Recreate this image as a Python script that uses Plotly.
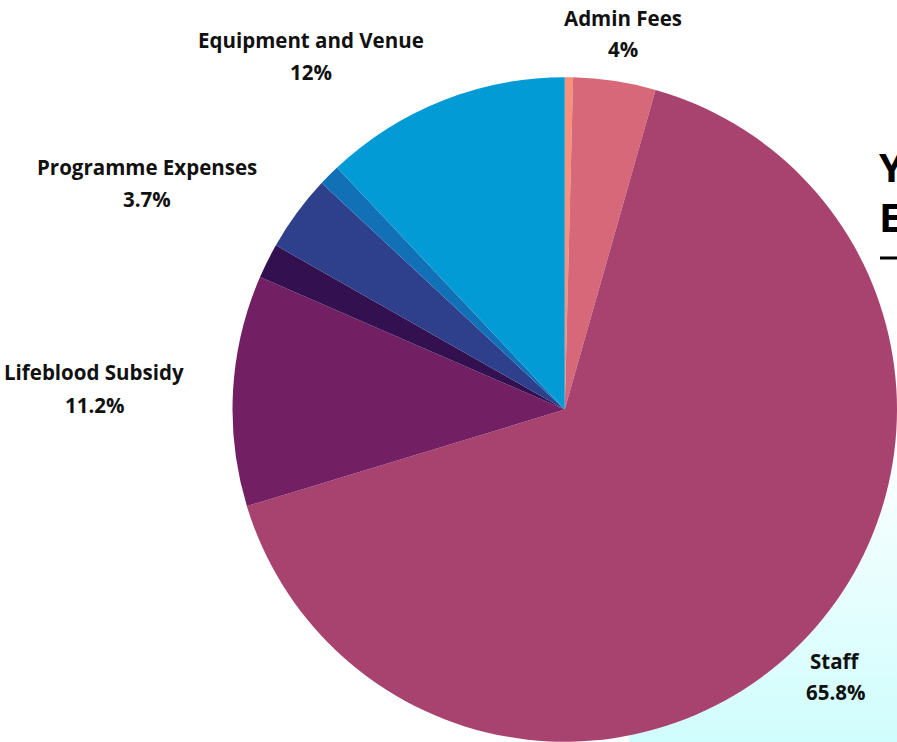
import plotly.graph_objects as go

# ---- data (clockwise from 12 o'clock) ----
slice_names = ["Unlabelled A", "Admin Fees", "Staff", "Lifeblood Subsidy",
               "Unlabelled B", "Programme Expenses", "Unlabelled C", "Equipment and Venue"]
slice_values = [0.4, 4.0, 65.8, 11.2, 1.7, 3.7, 1.05, 12.0]
slice_colors = ["#F6907A", "#D6687A", "#A8426F", "#722063",
                "#331050", "#2E3F8B", "#1271B6", "#029BD5"]

# labelled categories and their displayed percentages
label_names = ["Admin Fees", "Equipment and Venue", "Programme Expenses",
               "Lifeblood Subsidy", "Staff"]
label_pcts = [4, 12, 3.7, 11.2, 65.8]
# label anchor positions in window pixels: (x centre, name y, pct y) - layout only
label_pos = [(623, 18, 49), (311, 40, 72), (147, 167, 199), (94, 372, 405), (835, 661, 692)]

W, H = 897, 742


def fx(x):
    return x


def fy(y):
    return H - y


fig = go.Figure()

# light cyan gradient panel at lower right (background)
px0, px1, py_top = 629, 897, 430
fig.add_trace(go.Scatter(
    x=[fx(px0), fx(px1), fx(px1), fx(px0), fx(px0)],
    y=[fy(py_top), fy(py_top), 0, 0, fy(py_top)],
    mode="lines", line=dict(width=0), fill="toself",
    fillgradient=dict(type="vertical",
                      colorscale=[[0, "#D0FDFD"], [1, "#FFFFFF"]],
                      start=0, stop=fy(py_top)),
    hoverinfo="skip", showlegend=False,
))

# pie: centre (565, 409), radius ~333 in window pixels
cx, cy, r = 565, 409, 332.5
fig.add_trace(go.Pie(
    labels=slice_names, values=slice_values,
    marker=dict(colors=slice_colors, line=dict(width=0)),
    sort=False, direction="clockwise", rotation=0,
    textinfo="none", hoverinfo="skip", showlegend=False,
    domain=dict(x=[(fx(cx) - r) / W, 1.0], y=[0.0, min(1.0, 2 * r / H)]),
))

lab_font = dict(family="Open Sans", size=20.5, color="#111111")
annotations = []
for name, pct, (lx, ny, py) in zip(label_names, label_pcts, label_pos):
    annotations.append(dict(x=fx(lx), y=fy(ny), xref="x", yref="y",
                            text=f"<b>{name}</b>", showarrow=False,
                            xanchor="center", yanchor="middle", font=lab_font))
    annotations.append(dict(x=fx(lx), y=fy(py), xref="x", yref="y",
                            text=f"<b>{pct:g}%</b>", showarrow=False,
                            xanchor="center", yanchor="middle", font=lab_font))

# partially visible title on the right edge
title_font = dict(family="Open Sans", size=40, color="#000000")
annotations.append(dict(x=fx(877), y=fy(166), xref="x", yref="y", text="<b>Y</b>",
                        showarrow=False, xanchor="left", yanchor="middle", font=title_font))
annotations.append(dict(x=fx(877), y=fy(216), xref="x", yref="y", text="<b>E</b>",
                        showarrow=False, xanchor="left", yanchor="middle", font=title_font))

fig.update_layout(
    width=W, height=H,
    margin=dict(l=0, r=0, t=0, b=0),
    paper_bgcolor="white", plot_bgcolor="rgba(0,0,0,0)",
    xaxis=dict(range=[0, W], visible=False, fixedrange=True),
    yaxis=dict(range=[0, H], visible=False, fixedrange=True),
    annotations=annotations,
    shapes=[dict(type="line", xref="x", yref="y", x0=fx(880), x1=W,
                 y0=fy(258), y1=fy(258), line=dict(color="#000000", width=3))],
    showlegend=False,
)

fig.write_html("out.html", config={"displayModeBar": False},
               post_script="document.body.style.margin='0';document.body.style.overflow='hidden';")
